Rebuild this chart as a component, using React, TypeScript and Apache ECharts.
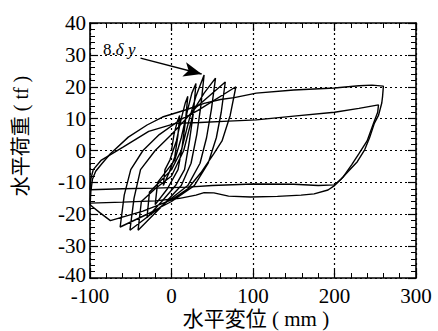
import React, { useEffect, useRef } from "react";
import * as echarts from "echarts";

// Axis ticks
const xTicks = [-100, 0, 100, 200, 300];
const yTicks = [-40, -30, -20, -10, 0, 10, 20, 30, 40];

// Small / medium cyclic loops (displacement mm, load tf)
const hatchCycles: number[][] = [
  [0, 0], [3, 5], [7, 9], [10, 11],
  [8, 5], [4, -2], [-3, -7], [-10, -11],
  [-8, -6], [-2, -3], [6, 3], [12, 10], [17, 15], [20, 17],
  [17, 9], [13, 1], [8, -6], [-5, -12], [-20, -17],
  [-17, -10], [-8, -7], [4, -3], [12, 4], [20, 13], [25, 18], [30, 21],
  [27, 12], [22, 3], [16, -6], [5, -11], [-12, -16], [-30, -21],
  [-27, -13], [-15, -10], [0, -6], [12, 0], [22, 10], [30, 17], [40, 23.7],
  [36, 14], [31, 5], [24, -4], [12, -11], [-10, -17], [-41, -25],
  [-37, -16], [-20, -12], [0, -8], [15, 0], [24, 9], [28, 13], [40, 18], [54, 22.7],
  [49, 13], [43, 4], [35, -4], [20, -11], [0, -15], [-20, -19], [-51, -25],
  [-46, -15], [-38, -6], [-20, 0], [0, 5], [18, 10], [30, 13.5], [66, 21.5],
  [61, 12], [55, 4], [45, -4], [28, -11], [0, -16], [-30, -20], [-63, -24],
  [-58, -14], [-50, -6], [-35, 0], [-15, 5], [10, 9.5], [32, 12.5], [79, 20],
  [72, 11], [62, 3], [52, -1], [36, -7], [20, -12], [0, -15.5], [-35, -19], [-75, -22],
  [-88, -19.5], [-100, -17],
];

// Large cycle A (to ~260 mm)
const cycleA: number[][] = [
  [-100, -17], [-99, -13], [-97, -9], [-93, -6.5], [-85, -4], [-75, -1],
  [-53, 4.2], [-30, 8], [-11, 10.5], [17, 12.7], [40, 14.8], [60, 16],
  [77, 16.6], [104, 18], [150, 19], [200, 19.6], [230, 20.3], [246, 20.5],
  [260, 20.2], [259, 17], [258, 14.9], [254, 11], [249, 8.6], [243, 4],
  [237, 0.2], [228, -3.5], [217, -6.5], [208, -9], [200, -10.8], [180, -11],
  [150, -10.6], [100, -10.5], [50, -11], [20, -11.5], [-20, -11.8],
  [-60, -12], [-100, -12.3],
];

// Large cycle B (second excursion, lower load)
const cycleB: number[][] = [
  [-100, -12.3], [-99, -9], [-96, -6], [-86, -3], [-60, 1], [-28, 6],
  [5, 8.5], [35, 8.8], [70, 9.2], [104, 9.6], [150, 10.8], [200, 12],
  [230, 13.2], [254, 14.3], [253, 12], [248, 8.6], [240, 3], [230, -1],
  [221, -4.5], [210, -8.5], [200, -11], [192, -12.4], [175, -13.6],
  [159, -14], [130, -14.4], [97, -14.6], [70, -14.3], [52, -13.3],
  [40, -13.2], [30, -14], [10, -15], [-20, -15.8], [-60, -16.2],
  [-100, -16.5],
];

// Annotation arrow (8δy) in data coordinates
const arrowFrom = [-38, 29];
const arrowTo = [37, 24];

const SERIF = "'Liberation Serif', 'Noto Sans CJK JP', serif";

export default function App() {
  const ref = useRef<HTMLDivElement>(null);
  useEffect(() => {
    if (!ref.current) return;
    const chart = echarts.init(ref.current, undefined, { renderer: "svg" });
    const black = "#000";
    const axisCommon = {
      type: "value" as const,
      axisLine: { show: true, onZero: false, lineStyle: { color: black, width: 1.6 } },
      axisTick: { show: true, inside: true, length: 8, lineStyle: { color: black, width: 1.2 } },
      minorTick: { show: true, splitNumber: 5, length: 5, lineStyle: { color: black, width: 1 } },
    };
    const lineSeries = (name: string, data: number[][], extra: any = {}) => ({
      name,
      type: "line",
      data,
      showSymbol: false,
      symbol: "none",
      xAxisIndex: 0,
      yAxisIndex: 0,
      lineStyle: { color: black, width: 1.4 },
      z: 5,
      ...extra,
    });
    chart.setOption({
      animation: false,
      backgroundColor: "#fff",
      textStyle: { fontFamily: SERIF },
      grid: { left: 90, top: 23, width: 326, height: 255 },
      xAxis: [
        {
          ...axisCommon,
          position: "bottom",
          min: xTicks[0],
          max: xTicks[xTicks.length - 1],
          interval: 100,
          splitLine: { show: true, lineStyle: { color: black, type: [2, 3], width: 1.2 } },
          axisLabel: { color: black, fontSize: 21, fontFamily: SERIF, margin: 7 },
        },
        {
          ...axisCommon,
          position: "top",
          min: xTicks[0],
          max: xTicks[xTicks.length - 1],
          interval: 100,
          splitLine: { show: false },
          axisLabel: { show: false },
        },
      ],
      yAxis: [
        {
          ...axisCommon,
          position: "left",
          min: yTicks[0],
          max: yTicks[yTicks.length - 1],
          interval: 10,
          splitLine: { show: true, lineStyle: { color: black, type: [2, 3], width: 1.2 } },
          axisLabel: {
            color: black,
            fontSize: 21,
            fontFamily: SERIF,
            margin: 4,
            formatter: (v: number) => (v === -40 ? "{lo|-40}" : String(v)),
            rich: { lo: { fontSize: 21, fontFamily: SERIF, color: black, padding: [0, 0, 7, 0] } },
          },
        },
        {
          ...axisCommon,
          position: "right",
          min: yTicks[0],
          max: yTicks[yTicks.length - 1],
          interval: 10,
          splitLine: { show: false },
          axisLabel: { show: false },
        },
      ],
      series: [
        lineSeries("cycles", hatchCycles, {
          markLine: {
            silent: true,
            symbol: ["none", "arrow"],
            symbolSize: [11, 18],
            label: { show: false },
            lineStyle: { color: black, width: 1.4, type: "solid" },
            data: [[{ coord: arrowFrom }, { coord: arrowTo }]],
          },
        }),
        lineSeries("cycleA", cycleA),
        lineSeries("cycleB", cycleB),
      ],
      graphic: [
        {
          type: "text",
          left: 103,
          top: 41,
          style: {
            text: "{n|8.}{i|δ y}",
            rich: {
              n: { font: "17px 'Liberation Serif', serif", fill: black },
              i: { font: "italic 17px 'Liberation Serif', serif", fill: black },
            },
          },
          z: 10,
        },
        {
          type: "text",
          x: 21,
          y: 136,
          rotation: Math.PI / 2,
          style: {
            text: "水平荷重 ( tf )",
            font: "20px 'Liberation Serif', 'Noto Sans CJK JP', serif",
            fill: black,
            align: "center",
            verticalAlign: "middle",
          },
        },
        {
          type: "text",
          x: 256,
          y: 319,
          style: {
            text: "水平変位 ( mm )",
            font: "21px 'Liberation Serif', 'Noto Sans CJK JP', serif",
            fill: black,
            align: "center",
            verticalAlign: "middle",
          },
        },
      ],
    });
    return () => chart.dispose();
  }, []);
  return <div ref={ref} style={{ width: 438, height: 331, position: "absolute", left: 0, top: 0 }} />;
}
